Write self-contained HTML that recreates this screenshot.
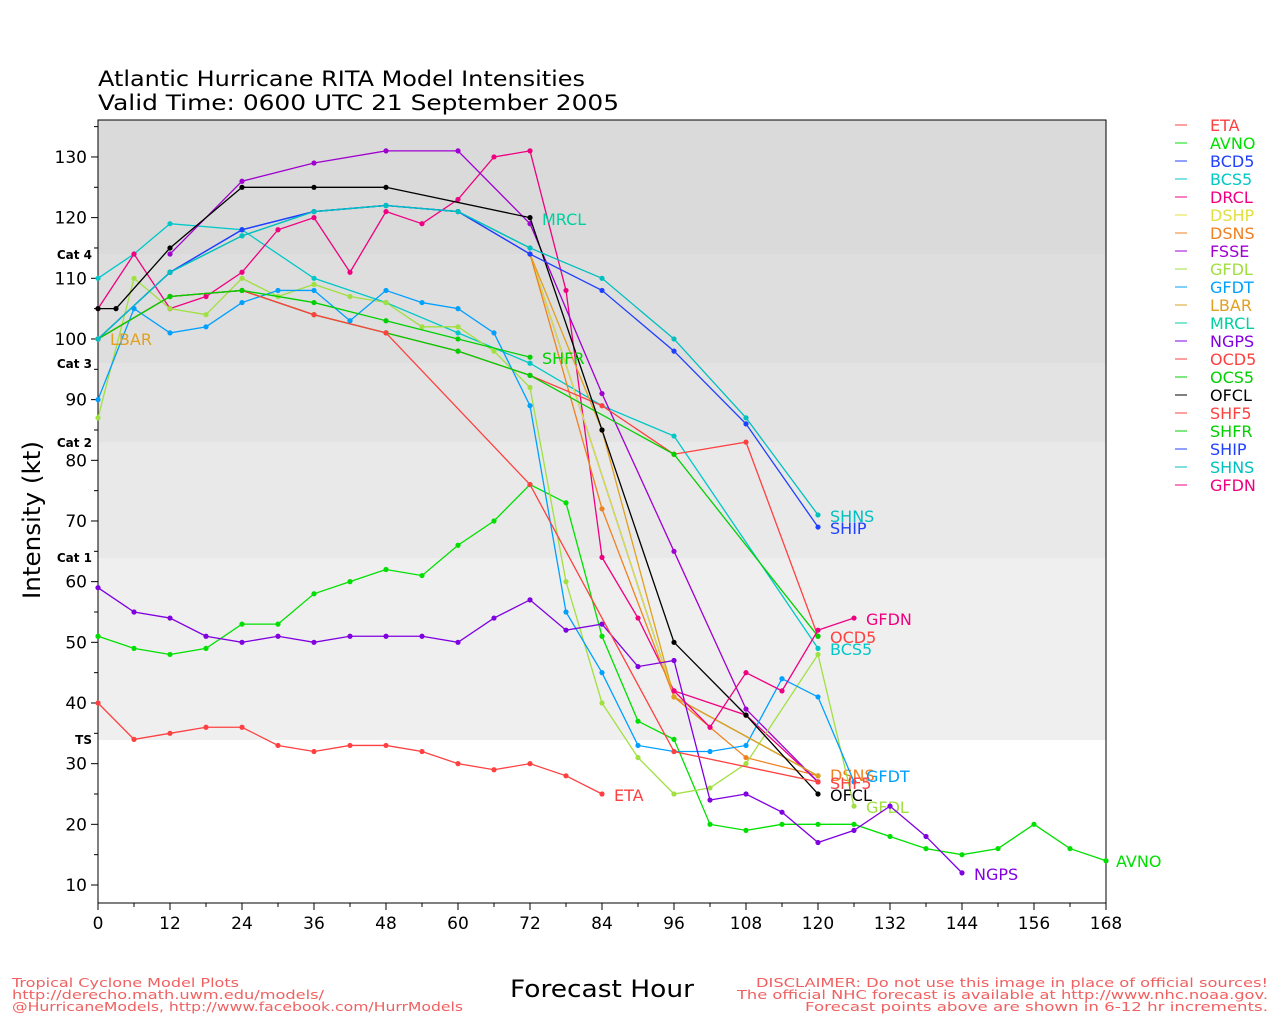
<!DOCTYPE html><html><head><meta charset="utf-8"><style>body{margin:0;background:#fff}svg{display:block}text{font-family:"DejaVu Sans","Liberation Sans",sans-serif}</style></head><body>
<svg id="s" width="1280" height="1024" xmlns="http://www.w3.org/2000/svg">
<rect x="98" y="120" width="1008" height="134" fill="#dadada"/>
<rect x="98" y="254" width="1008" height="109" fill="#dedede"/>
<rect x="98" y="363" width="1008" height="79" fill="#e3e3e3"/>
<rect x="98" y="442" width="1008" height="116" fill="#e9e9e9"/>
<rect x="98" y="558" width="1008" height="182" fill="#efefef"/>
<rect x="98" y="120" width="1008" height="783" fill="none" stroke="#000" stroke-width="1"/>
<text x="98" y="86" font-size="21" textLength="487" lengthAdjust="spacingAndGlyphs">Atlantic Hurricane RITA Model Intensities</text>
<text x="98" y="110" font-size="21" textLength="521" lengthAdjust="spacingAndGlyphs">Valid Time: 0600 UTC 21 September 2005</text>
<text x="40" y="520" font-size="24" transform="rotate(-90 40 520)" text-anchor="middle" textLength="158" lengthAdjust="spacingAndGlyphs">Intensity (kt)</text>
<text x="510" y="997" font-size="24" textLength="184" lengthAdjust="spacingAndGlyphs">Forecast Hour</text>
<g font-size="12" font-weight="bold" text-anchor="end"><text x="92" y="259">Cat 4</text><text x="92" y="368">Cat 3</text><text x="92" y="447">Cat 2</text><text x="92" y="562">Cat 1</text><text x="92" y="744">TS</text></g>
<g font-size="12" fill="#f06060"><text x="12" y="987" textLength="227" lengthAdjust="spacingAndGlyphs">Tropical Cyclone Model Plots</text><text x="12" y="999" textLength="312" lengthAdjust="spacingAndGlyphs">http://derecho.math.uwm.edu/models/</text><text x="12" y="1011" textLength="451" lengthAdjust="spacingAndGlyphs">@HurricaneModels, http://www.facebook.com/HurrModels</text>
<text x="756" y="987" textLength="512" lengthAdjust="spacingAndGlyphs">DISCLAIMER: Do not use this image in place of official sources!</text><text x="737" y="999" textLength="531" lengthAdjust="spacingAndGlyphs">The official NHC forecast is available at http://www.nhc.noaa.gov.</text><text x="805" y="1011" textLength="463" lengthAdjust="spacingAndGlyphs">Forecast points above are shown in 6-12 hr increments.</text></g>
<g id="ax"></g><g id="ser"></g><g id="leg"></g>
</svg>
<script>
const NS="http://www.w3.org/2000/svg";
const X=h=>98+h*6, Y=v=>885-(v-10)*6.067;
function el(p,t,a,txt){const e=document.createElementNS(NS,t);for(const k in a)e.setAttribute(k,a[k]);if(txt!=null)e.textContent=txt;document.getElementById(p).appendChild(e);return e;}
for(let h=0;h<=168;h+=12){el("ax","line",{x1:X(h),x2:X(h),y1:903,y2:910,stroke:"#000"});el("ax","text",{x:X(h),y:929,"font-size":17,"text-anchor":"middle"},h);}
for(let h=6;h<168;h+=12)el("ax","line",{x1:X(h),x2:X(h),y1:903,y2:907,stroke:"#000"});
for(let v=10;v<=130;v+=10){el("ax","line",{x1:91,x2:98,y1:Y(v),y2:Y(v),stroke:"#000"});el("ax","text",{x:87,y:Y(v)+6,"font-size":17,"text-anchor":"end"},v);}
for(let v=15;v<=135;v+=10)el("ax","line",{x1:94,x2:98,y1:Y(v),y2:Y(v),stroke:"#000"});
const p=s=>s.split(",").map(q=>q.split(":").map(Number));
const S=[
["ETA","#ff4040","0:40,6:34,12:35,18:36,24:36,30:33,36:32,42:33,48:33,54:32,60:30,66:29,72:30,78:28,84:25",[614,801]],
["AVNO","#00e000","0:51,6:49,12:48,18:49,24:53,30:53,36:58,42:60,48:62,54:61,60:66,66:70,72:76,78:73,84:51,90:37,96:34,102:20,108:19,114:20,120:20,126:20,132:18,138:16,144:15,150:16,156:20,162:16,168:14",[1116,867]],
["BCD5","#2040ff","0:100,12:111,24:118,36:121,48:122,60:121,72:114,96:41,120:28",null],
["BCS5","#00c8c8","0:110,6:114,12:119,24:118,36:110,48:106,60:101,72:96,84:89,96:84,120:49",[830,655]],
["DRCL","#f00080","0:105,6:114,12:105,18:107,24:111,30:118,36:120,42:111,48:121,54:119,60:123,66:130,72:131,78:108,84:64,90:54,96:42,108:38,120:27",null],
["DSHP","#e0e040","72:114,96:41,120:28",null],
["DSNS","#f08020","72:114,84:72,96:41,108:31,120:28",[830,781]],
["FSSE","#a000d0","12:114,24:126,36:129,48:131,60:131,72:119,84:91,96:65,108:39,120:27",null],
["GFDL","#a0e040","0:87,6:110,12:105,18:104,24:110,30:107,36:109,42:107,48:106,54:102,60:102,66:98,72:92,78:60,84:40,90:31,96:25,102:26,108:30,120:48,126:23",[866,813]],
["GFDT","#00a0ff","0:90,6:105,12:101,18:102,24:106,30:108,36:108,42:103,48:108,54:106,60:105,66:101,72:89,78:55,84:45,90:33,96:32,102:32,108:33,114:44,120:41,126:27",[866,782]],
["LBAR","#e0a020","72:114,84:85,96:41,120:28",[110,345]],
["MRCL","#00d0a0","0:100,12:111,24:117,36:121,48:122,60:121,72:115",[542,225]],
["NGPS","#8000e0","0:59,6:55,12:54,18:51,24:50,30:51,36:50,42:51,48:51,54:51,60:50,66:54,72:57,78:52,84:53,90:46,96:47,102:24,108:25,114:22,120:17,126:19,132:23,138:18,144:12",[974,880]],
["OCD5","#ff4040","0:100,12:107,24:108,36:104,48:101,60:98,72:94,84:89,96:81,108:83,120:51",[830,643]],
["OCS5","#00d000","0:100,12:107,24:108,36:104,48:101,60:98,72:94,96:81,120:51",null],
["OFCL","#000000","0:105,3:105,12:115,24:125,36:125,48:125,72:120,84:85,96:50,108:38,120:25",[830,801]],
["SHF5","#ff4040","0:100,12:107,24:108,36:104,48:101,72:76,96:32,120:27",[830,789]],
["SHFR","#00d000","0:100,12:107,24:108,36:106,48:103,60:100,72:97",[542,364]],
["SHIP","#2040ff","0:100,12:111,24:118,36:121,48:122,60:121,72:114,84:108,96:98,108:86,120:69",[830,534]],
["SHNS","#00c0c0","0:100,12:111,24:117,36:121,48:122,60:121,72:115,84:110,96:100,108:87,120:71",[830,522]],
["GFDN","#f00080","96:42,102:36,108:45,114:42,120:52,126:54",[866,625]]];
S.forEach((s,i)=>{const pts=p(s[2]);el("ser","polyline",{points:pts.map(q=>X(q[0])+","+Y(q[1])).join(" "),fill:"none",stroke:s[1],"stroke-width":1.3});
pts.forEach(q=>el("ser","circle",{cx:X(q[0]),cy:Y(q[1]),r:2.6,fill:s[1]}));
if(s[3])el("ser","text",{x:s[3][0],y:s[3][1],"font-size":16,fill:s[1]},s[0]);
const ly=125+i*18;el("leg","line",{x1:1175,x2:1187,y1:ly,y2:ly,stroke:s[1]});el("leg","text",{x:1210,y:ly+6,"font-size":16,fill:s[1]},s[0]);});
</script></body></html>
